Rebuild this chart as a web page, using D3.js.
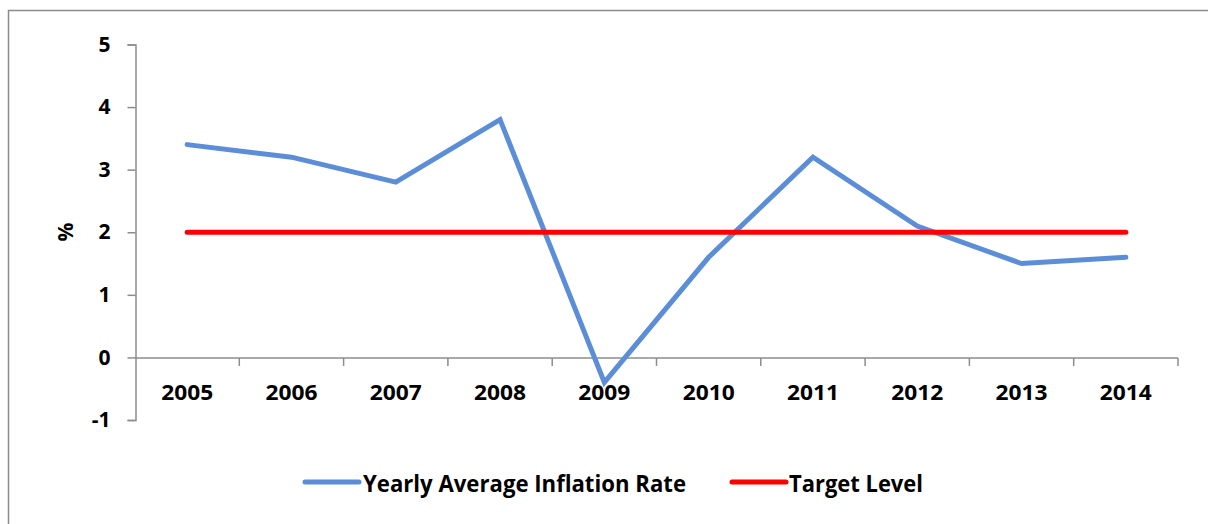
<!DOCTYPE html>
<html>
<head>
<meta charset="utf-8">
<script src="https://cdn.jsdelivr.net/npm/d3@7"></script>
<style>
  html, body { margin: 0; padding: 0; background: #fff; }
  svg { display: block; }
  text { font-family: "Open Sans", Lato, sans-serif; font-weight: bold; fill: #000; }
</style>
</head>
<body>
<svg id="chart" width="1208" height="524"></svg>
<script>
// Inflation data
const years = ["2005", "2006", "2007", "2008", "2009", "2010", "2011", "2012", "2013", "2014"];
const inflation = [3.4, 3.2, 2.8, 3.8, -0.4, 1.6, 3.2, 2.1, 1.5, 1.6];
const target = [2, 2, 2, 2, 2, 2, 2, 2, 2, 2];
const yTicks = [-1, 0, 1, 2, 3, 4, 5];
const seriesNames = ["Yearly Average Inflation Rate", "Target Level"];
const seriesColors = ["#5B8ED6", "#FF0000"];

const svg = d3.select("#chart");

// Outer chart frame (extends beyond the visible area on the right and bottom)
svg.append("rect")
  .attr("x", 8.5).attr("y", 10.5)
  .attr("width", 1300).attr("height", 600)
  .attr("fill", "none").attr("stroke", "#8c8c8c").attr("stroke-width", 1.5);

const plot = { left: 135, right: 1178, top: 44.5, bottom: 420 };

const x = d3.scaleBand().domain(years).range([plot.left, plot.right]);
const y = d3.scaleLinear().domain([-1, 5]).range([plot.bottom, plot.top]);

const axisColor = "#8c8c8c";
const fontFamily = '"Open Sans", Lato, sans-serif';

// Y axis
const yAxis = svg.append("g")
  .attr("transform", `translate(${plot.left + 0.5},0)`)
  .call(d3.axisLeft(y).tickValues(yTicks).tickSize(8).tickPadding(17).tickFormat(d => String(d)));
yAxis.select(".domain").attr("stroke", axisColor).attr("stroke-width", 1.5);
yAxis.selectAll(".tick line").attr("stroke", axisColor).attr("stroke-width", 1.5);
yAxis.selectAll(".tick text")
  .style("font-family", fontFamily).style("font-weight", "bold")
  .attr("font-size", 21).attr("fill", "#000");

// X axis at zero, with tick marks between categories
const xAxisG = svg.append("g").attr("transform", `translate(0,${y(0) + 0.5})`);
xAxisG.append("line")
  .attr("x1", plot.left).attr("x2", plot.right)
  .attr("stroke", axisColor).attr("stroke-width", 1.5);
const boundaries = years.map(d => x(d) + x.bandwidth());
xAxisG.selectAll("line.tick")
  .data(boundaries)
  .join("line")
  .attr("class", "tick")
  .attr("x1", d => d).attr("x2", d => d)
  .attr("y1", 0).attr("y2", 8)
  .attr("stroke", axisColor).attr("stroke-width", 1.5);
xAxisG.selectAll("text")
  .data(years)
  .join("text")
  .attr("x", d => x(d) + x.bandwidth() / 2)
  .attr("y", 42)
  .attr("text-anchor", "middle")
  .attr("font-size", 22)
  .attr("textLength", 52)
  .attr("lengthAdjust", "spacingAndGlyphs")
  .text(d => d);

// Y axis title
svg.append("text")
  .attr("transform", "translate(73,232) rotate(-90)")
  .attr("text-anchor", "middle")
  .attr("font-size", 21)
  .text("%");

// Lines
const line = d3.line()
  .x((d, i) => x(years[i]) + x.bandwidth() / 2)
  .y(d => y(d));

[inflation, target].forEach((vals, i) => {
  svg.append("path")
    .datum(vals)
    .attr("d", line)
    .attr("fill", "none")
    .attr("stroke", seriesColors[i])
    .attr("stroke-width", 5)
    .attr("stroke-linejoin", "miter")
    .attr("stroke-linecap", "round");
});

// Legend
const legendItems = [
  { x1: 305, x2: 359, tx: 363, tw: 323 },
  { x1: 732, x2: 786, tx: 789, tw: 134 }
];
const legendY = 482;
legendItems.forEach((it, i) => {
  svg.append("line")
    .attr("x1", it.x1).attr("x2", it.x2)
    .attr("y1", legendY).attr("y2", legendY)
    .attr("stroke", seriesColors[i]).attr("stroke-width", 5)
    .attr("stroke-linecap", "round");
  svg.append("text")
    .attr("x", it.tx).attr("y", 492)
    .attr("font-size", 24)
    .attr("textLength", it.tw)
    .attr("lengthAdjust", "spacingAndGlyphs")
    .text(seriesNames[i]);
});
</script>
</body>
</html>
